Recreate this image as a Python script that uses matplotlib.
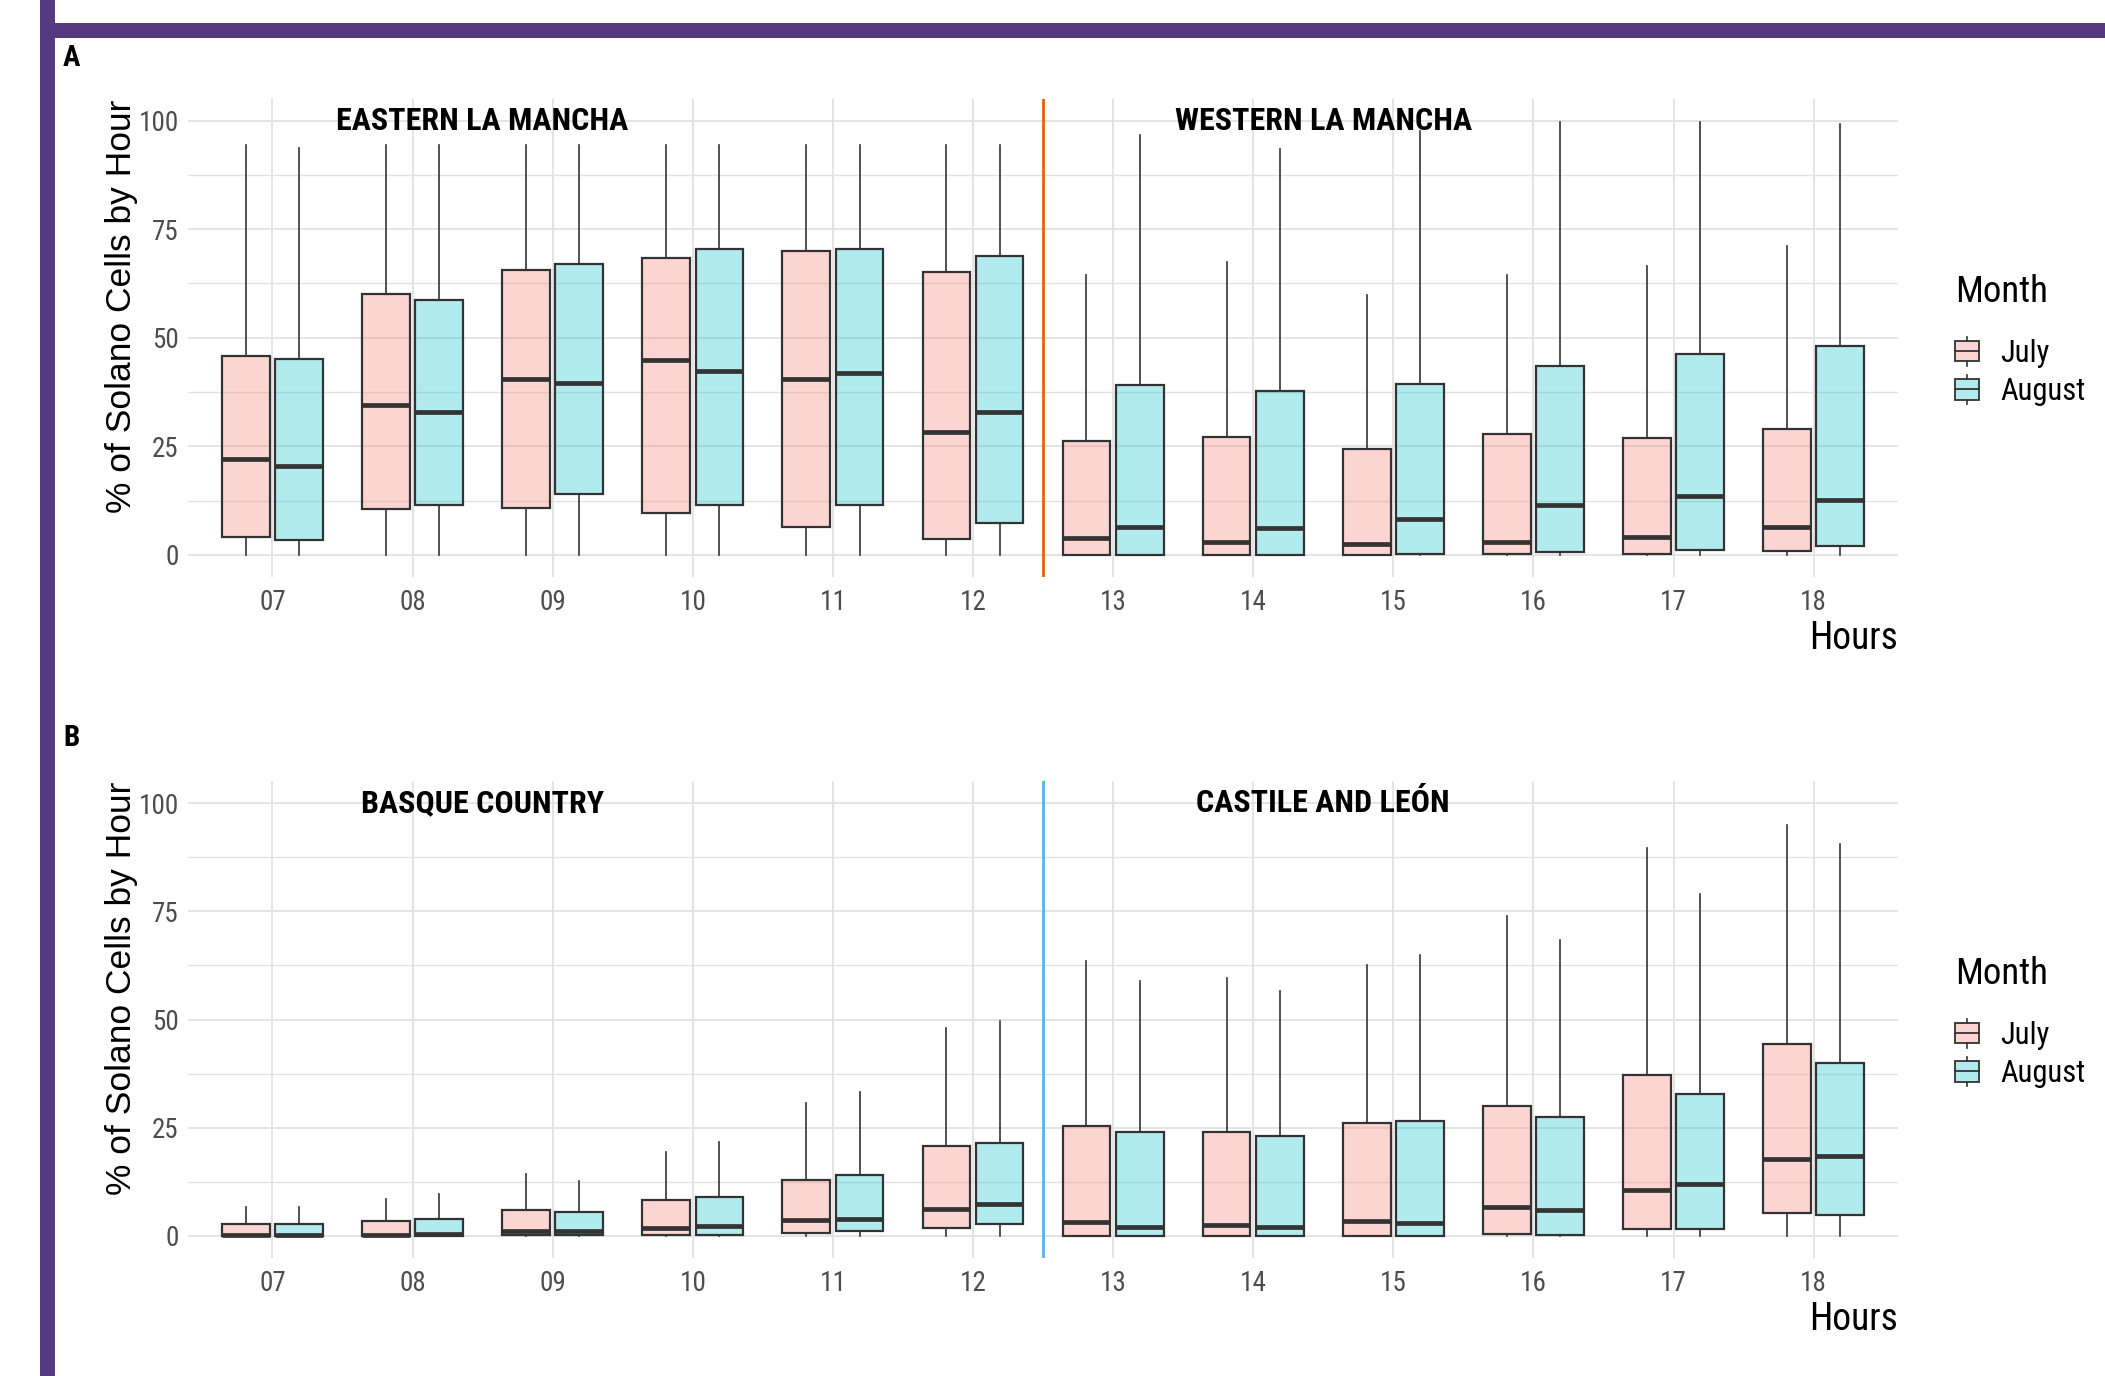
import matplotlib
matplotlib.use("Agg")
import matplotlib.pyplot as plt
from matplotlib.patches import Rectangle, Patch
from matplotlib.lines import Line2D
from matplotlib.legend_handler import HandlerBase
from matplotlib.font_manager import FontProperties, fontManager
from matplotlib.colors import to_rgb

# ---------------------------------------------------------------- data
hours = ["07", "08", "09", "10", "11", "12", "13", "14", "15", "16", "17", "18"]
months = ["July", "August"]

# Panel A: La Mancha (07-12 eastern, 13-18 western)
mancha_jul_hi = [94.5, 94.5, 94.5, 94.5, 94.5, 94.5, 64.5, 67.5, 59.9, 64.5, 66.6, 71.1]
mancha_jul_q3 = [45.7, 60.1, 65.7, 68.3, 70.0, 65.1, 26.1, 27.1, 24.3, 27.8, 27.0, 29.0]
mancha_jul_med = [22.0, 34.6, 40.4, 44.8, 40.4, 28.4, 3.8, 2.9, 2.4, 3.0, 4.0, 6.5]
mancha_jul_q1 = [4.0, 10.5, 10.8, 9.6, 6.3, 3.6, 0.0, 0.0, 0.0, 0.2, 0.2, 0.9]
mancha_jul_lo = [0.0] * 12

mancha_aug_hi = [93.6, 94.5, 94.5, 94.5, 94.5, 94.5, 96.6, 93.4, 97.6, 99.6, 99.6, 99.2]
mancha_aug_q3 = [45.0, 58.7, 67.1, 70.5, 70.4, 68.9, 39.2, 37.8, 39.4, 43.5, 46.2, 48.0]
mancha_aug_med = [20.4, 33.0, 39.6, 42.4, 41.8, 33.0, 6.3, 6.1, 8.2, 11.4, 13.5, 12.7]
mancha_aug_q1 = [3.4, 11.5, 14.1, 11.5, 11.5, 7.3, 0.0, 0.0, 0.2, 0.6, 1.0, 2.0]
mancha_aug_lo = [0.0] * 12

# Panel B: Basque Country (07-12) and Castile and León (13-18)
north_jul_hi = [6.7, 8.5, 14.4, 19.5, 30.8, 48.0, 63.6, 59.5, 62.5, 74.0, 89.6, 95.0]
north_jul_q3 = [2.8, 3.5, 5.9, 8.3, 12.9, 20.8, 25.5, 24.1, 26.1, 30.0, 37.1, 44.3]
north_jul_med = [0.3, 0.3, 1.2, 1.9, 3.6, 6.2, 3.2, 2.6, 3.4, 6.8, 10.7, 17.7]
north_jul_q1 = [0.0, 0.0, 0.3, 0.3, 0.7, 1.9, 0.0, 0.0, 0.0, 0.4, 1.7, 5.4]
north_jul_lo = [0.0] * 12

north_aug_hi = [6.7, 9.7, 12.8, 21.8, 33.2, 49.6, 58.9, 56.6, 64.8, 68.4, 79.1, 90.6]
north_aug_q3 = [2.8, 3.9, 5.5, 9.0, 14.1, 21.5, 24.1, 23.0, 26.6, 27.4, 32.8, 39.9]
north_aug_med = [0.3, 0.5, 1.2, 2.4, 4.0, 7.4, 2.0, 2.0, 2.9, 6.1, 11.9, 18.4]
north_aug_q1 = [0.0, 0.0, 0.3, 0.3, 1.1, 2.8, 0.0, 0.0, 0.0, 0.2, 1.5, 4.9]
north_aug_lo = [0.0] * 12

panel_a_regions = ["EASTERN LA MANCHA", "WESTERN LA MANCHA"]
panel_b_regions = ["BASQUE COUNTRY", "CASTILE AND LEÓN"]


# ---------------------------------------------------------------- fonts
def _is_condensed(f):
    key = (f.name + " " + f.fname + " " + str(f.stretch)).lower()
    return "narrow" in key or "condensed" in key


def _weight_num(w):
    table = {"normal": 400, "regular": 400, "book": 400, "bold": 700, "medium": 500,
             "light": 300, "semibold": 600, "demibold": 600, "heavy": 800, "black": 900}
    try:
        return int(w)
    except (TypeError, ValueError):
        return table.get(str(w).lower(), 400)


PREFERRED = ["liberation sans narrow", "arial narrow", "roboto condensed",
             "open sans condensed", "noto sans", "dejavu sans"]


def condensed_file(target_weight):
    best, best_score = None, None
    for f in fontManager.ttflist:
        if not _is_condensed(f) or f.style != "normal":
            continue
        name = f.name.lower()
        rank = len(PREFERRED)
        for i, p in enumerate(PREFERRED):
            if name.startswith(p):
                rank = i
                break
        score = (rank, abs(_weight_num(f.weight) - target_weight))
        if best_score is None or score < best_score:
            best, best_score = f.fname, score
    return best


REG_FILE = condensed_file(400)
BOLD_FILE = condensed_file(700)


def narrow(size, bold=False):
    path = BOLD_FILE if bold else REG_FILE
    if path:
        return FontProperties(fname=path, size=size)
    return FontProperties(family=["Liberation Sans", "DejaVu Sans"], size=size * 0.9,
                          weight="bold" if bold else "normal")


# ---------------------------------------------------------------- style
FILL = {"July": "#F8766D", "August": "#00BFC4"}
EDGE = "#333333"
GRID = "#E2E2E2"
TICK_GREY = "#4D4D4D"
PURPLE = "#563A7F"


def fill_rgba(month):
    return (*to_rgb(FILL[month]), 0.3)


W, H = 2105, 1376
fig = plt.figure(figsize=(W / 100, H / 100), dpi=100)

# purple frame along the top and left edge
fig.add_artist(Rectangle((40 / W, 0), 14.5 / W, 1, transform=fig.transFigure,
                         facecolor=PURPLE, edgecolor="none", zorder=0))
fig.add_artist(Rectangle((40 / W, 1 - 37.5 / H), 1, 14.5 / H, transform=fig.transFigure,
                         facecolor=PURPLE, edgecolor="none", zorder=0))


class BoxKeyHandler(HandlerBase):
    """Small boxplot glyph used as legend key."""

    def create_artists(self, legend, orig_handle, xdescent, ydescent,
                       width, height, fontsize, trans):
        x0, y0 = -xdescent, -ydescent
        cx = x0 + width / 2
        lo, hi = y0, y0 + height
        mid = (lo + hi) / 2
        face = orig_handle.get_facecolor()
        arts = [
            Line2D([cx, cx], [lo - height * 0.22, lo], color=EDGE, lw=1.2),
            Line2D([cx, cx], [hi, hi + height * 0.22], color=EDGE, lw=1.2),
            Rectangle((x0, lo), width, hi - lo, facecolor=face, edgecolor=EDGE, lw=1.3),
            Line2D([x0, x0 + width], [mid, mid], color=EDGE, lw=1.3),
        ]
        for a in arts:
            a.set_transform(trans)
        return arts


def make_stats(lo, q1, med, q3, hi):
    return [dict(whislo=a, q1=b, med=c, q3=d, whishi=e, fliers=[])
            for a, b, c, d, e in zip(lo, q1, med, q3, hi)]


def draw_panel(rect, tag, tag_y, series, regions, sep_color, legend_top):
    ax = fig.add_axes(rect)
    pos = list(range(len(hours)))
    offset, width = 0.19, 0.34
    for k, (month, stats) in enumerate(zip(months, series)):
        shift = -offset if k == 0 else offset
        ax.bxp(stats, positions=[p + shift for p in pos], widths=width,
               showcaps=False, showfliers=False, patch_artist=True, manage_ticks=False,
               boxprops=dict(facecolor=fill_rgba(month), edgecolor=EDGE, linewidth=1.6),
               medianprops=dict(color=EDGE, linewidth=3.4, solid_capstyle="butt"),
               whiskerprops=dict(color=EDGE, linewidth=1.2))

    ax.set_xlim(-0.6, len(hours) - 0.4)
    ax.set_ylim(-5, 105)
    ax.set_xticks(pos)
    ax.set_xticklabels(hours, fontproperties=narrow(19.5))
    ax.set_yticks([0, 25, 50, 75, 100])
    ax.set_yticklabels(["0", "25", "50", "75", "100"], fontproperties=narrow(19.5))
    ax.set_yticks([12.5, 37.5, 62.5, 87.5], minor=True)
    ax.tick_params(axis="both", which="both", length=0, labelcolor=TICK_GREY)
    ax.tick_params(axis="x", pad=9)
    ax.tick_params(axis="y", pad=7)
    ax.grid(True, which="major", color=GRID, linewidth=1.3, zorder=0)
    ax.grid(True, which="minor", axis="y", color=GRID, linewidth=1.0, zorder=0)
    ax.set_axisbelow(True)
    for s in ax.spines.values():
        s.set_visible(False)

    ax.axvline(5.5, color=sep_color, linewidth=2.0, zorder=3)
    ax.text(1.5, 100, regions[0], ha="center", va="center",
            fontproperties=narrow(23, bold=True), color="black")
    ax.text(7.5, 100, regions[1], ha="center", va="center",
            fontproperties=narrow(23, bold=True), color="black")

    ax.set_xlabel("Hours", loc="right", fontproperties=narrow(27), labelpad=3, color="black")

    fig.text(63 / W, 1 - tag_y / H, tag, ha="left", va="center",
             fontproperties=narrow(21, bold=True), color="black")

    handles = [Patch(facecolor=fill_rgba(m)) for m in months]
    leg = ax.legend(handles, months, title="Month", loc="upper left",
                    bbox_to_anchor=(1934 / W, legend_top), bbox_transform=fig.transFigure,
                    frameon=False, handler_map={Patch: BoxKeyHandler()},
                    prop=narrow(22), title_fontproperties=narrow(26.5),
                    alignment="left", handlelength=0.78, handleheight=0.65,
                    handletextpad=0.7, labelspacing=0.3, borderpad=0.2)
    # extra room between the legend title and its entries
    leg._legend_box.sep = 0.3 * 22 + 14
    return ax


series_a = [make_stats(mancha_jul_lo, mancha_jul_q1, mancha_jul_med, mancha_jul_q3, mancha_jul_hi),
            make_stats(mancha_aug_lo, mancha_aug_q1, mancha_aug_med, mancha_aug_q3, mancha_aug_hi)]
series_b = [make_stats(north_jul_lo, north_jul_q1, north_jul_med, north_jul_q3, north_jul_hi),
            make_stats(north_aug_lo, north_aug_q1, north_aug_med, north_aug_q3, north_aug_hi)]

left, width = 188.4 / W, 1709.3 / W
draw_panel([left, 1 - 576.5 / H, width, 477.5 / H], "A", 58, series_a,
           panel_a_regions, "#E0640F", 1 - 253 / H)
draw_panel([left, 1 - 1257.6 / H, width, 476.2 / H], "B", 738, series_b,
           panel_b_regions, "#56B4E9", 1 - 935 / H)

# y-axis titles in regular Liberation Sans
for yc in (306, 988):
    fig.text(121 / W, 1 - yc / H, "% of Solano Cells by Hour", rotation=90,
             ha="center", va="center", fontsize=25.5,
             family=["Liberation Sans", "DejaVu Sans"], color="black")

fig.savefig("out.png", dpi=100, facecolor="white")
